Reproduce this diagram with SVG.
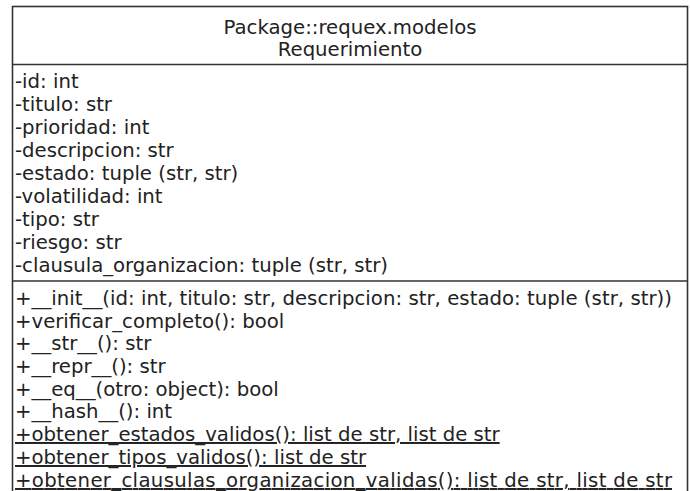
<svg xmlns="http://www.w3.org/2000/svg" width="691" height="491" viewBox="0 0 691 491">
<style>
text{font-family:"DejaVu Sans",sans-serif;font-size:19.7px;fill:#222}
.c{text-anchor:middle}
.u{text-decoration:underline}
.b{fill:#fff;stroke:#333;stroke-width:1.6}
.l{stroke:#333;stroke-width:1.6}
</style>
<rect width="691" height="491" fill="#fff"/>
<g id="Requerimiento">
<rect class="b" x="12.5" y="6.5" width="675" height="500"/>
<line class="l" x1="12.5" y1="64.5" x2="687.5" y2="64.5"/>
<line class="l" x1="12.5" y1="281" x2="687.5" y2="281"/>
<text class="c" x="350" y="34">Package::requex.modelos</text>
<text class="c" x="350" y="56">Requerimiento</text>
<text x="15" y="88">-id: int</text>
<text x="15" y="111">-titulo: str</text>
<text x="15" y="134">-prioridad: int</text>
<text x="15" y="157">-descripcion: str</text>
<text x="15" y="180">-estado: tuple (str, str)</text>
<text x="15" y="203">-volatilidad: int</text>
<text x="15" y="226">-tipo: str</text>
<text x="15" y="249">-riesgo: str</text>
<text x="15" y="272">-clausula_organizacion: tuple (str, str)</text>
<text x="15" y="305" textLength="657" lengthAdjust="spacing">+__init__(id: int, titulo: str, descripcion: str, estado: tuple (str, str))</text>
<text x="15" y="328">+verificar_completo(): bool</text>
<text x="15" y="350">+__str__(): str</text>
<text x="15" y="373">+__repr__(): str</text>
<text x="15" y="396">+__eq__(otro: object): bool</text>
<text x="15" y="418">+__hash__(): int</text>
<text class="u" x="15" y="441">+obtener_estados_validos(): list de str, list de str</text>
<text class="u" x="15" y="464">+obtener_tipos_validos(): list de str</text>
<text class="u" x="15" y="487" textLength="657" lengthAdjust="spacing">+obtener_clausulas_organizacion_validas(): list de str, list de str</text>
</g>
<g id="connectors"/>
</svg>
